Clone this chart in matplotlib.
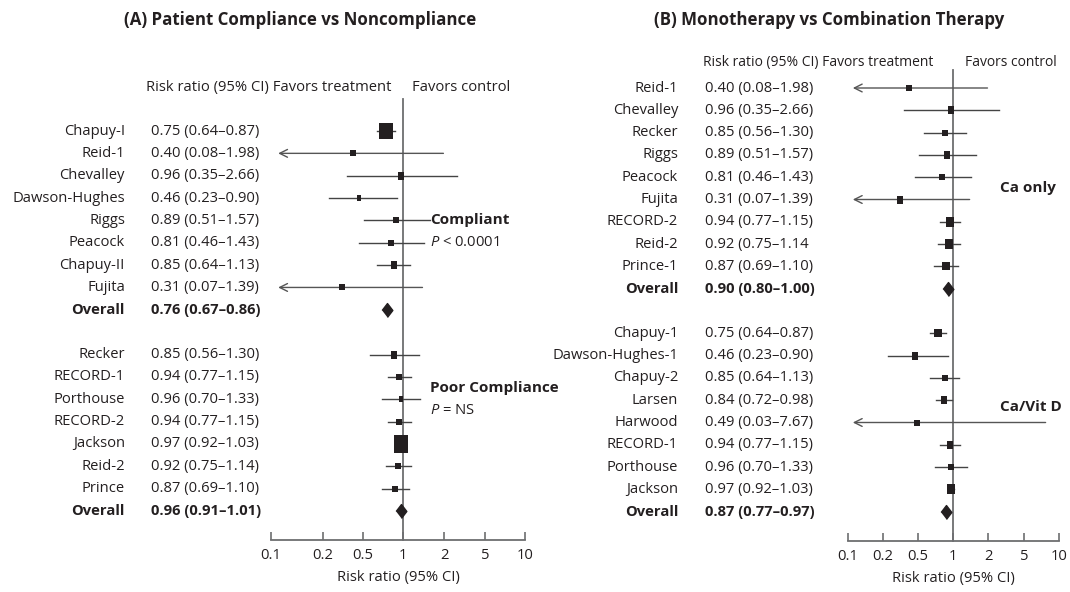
import numpy as np
import matplotlib
matplotlib.use("Agg")
import matplotlib.pyplot as plt
import matplotlib.transforms as mtransforms

plt.rcParams["font.family"] = ["Open Sans", "DejaVu Sans"]
plt.rcParams["mathtext.fontset"] = "custom"
plt.rcParams["mathtext.it"] = "Open Sans:italic"
plt.rcParams["mathtext.rm"] = "Open Sans"

nan = np.nan

# Panel A: compliance vs poor compliance
a_names = ["Chapuy-I", "Reid-1", "Chevalley", "Dawson-Hughes", "Riggs", "Peacock",
           "Chapuy-II", "Fujita", "Overall", "",
           "Recker", "RECORD-1", "Porthouse", "RECORD-2", "Jackson", "Reid-2",
           "Prince", "Overall"]
a_rr = [0.75, 0.40, 0.96, 0.46, 0.89, 0.81, 0.85, 0.31, 0.76, nan,
        0.85, 0.94, 0.96, 0.94, 0.97, 0.92, 0.87, 0.96]
a_lo = [0.64, 0.08, 0.35, 0.23, 0.51, 0.46, 0.64, 0.07, 0.67, nan,
        0.56, 0.77, 0.70, 0.77, 0.92, 0.75, 0.69, 0.91]
a_hi = [0.87, 1.98, 2.66, 0.90, 1.57, 1.43, 1.13, 1.39, 0.86, nan,
        1.30, 1.15, 1.33, 1.15, 1.03, 1.14, 1.10, 1.01]
a_box = [17, 7, 8, 6, 7, 7, 8, 7, 0, nan,
         8, 7, 6, 7, 18, 7, 7, 0]

# Panel B: monotherapy vs combination therapy
b_names = ["Reid-1", "Chevalley", "Recker", "Riggs", "Peacock", "Fujita",
           "RECORD-2", "Reid-2", "Prince-1", "Overall", "",
           "Chapuy-1", "Dawson-Hughes-1", "Chapuy-2", "Larsen", "Harwood",
           "RECORD-1", "Porthouse", "Jackson", "Overall"]
b_rr = [0.40, 0.96, 0.85, 0.89, 0.81, 0.31, 0.94, 0.92, 0.87, 0.90, nan,
        0.75, 0.46, 0.85, 0.84, 0.49, 0.94, 0.96, 0.97, 0.87]
b_lo = [0.08, 0.35, 0.56, 0.51, 0.46, 0.07, 0.77, 0.75, 0.69, 0.80, nan,
        0.64, 0.23, 0.64, 0.72, 0.03, 0.77, 0.70, 0.92, 0.77]
b_hi = [1.98, 2.66, 1.30, 1.57, 1.43, 1.39, 1.15, 1.14, 1.10, 1.00, nan,
        0.87, 0.90, 1.13, 0.98, 7.67, 1.15, 1.33, 1.03, 0.97]
b_box = [7, 8, 7, 8, 7, 8, 11, 11, 9, 0, nan,
         9, 8, 7, 8, 7, 8, 7, 11, 0]

tick_vals = [0.1, 0.2, 0.5, 1, 2, 5, 10]
tick_labels = ["0.1", "0.2", "0.5", "1", "2", "5", "10"]

W, H = 1070, 592
INK = "#231f20"
GREY = "#6d6e70"
FS = 10.6

fig = plt.figure(figsize=(W / 100, H / 100), dpi=100)


def make_scale(positions):
    logt = np.log10(tick_vals)

    def fwd(x):
        x = np.clip(np.asarray(x, dtype=float), 1e-4, None)
        return np.interp(np.log10(x), logt, positions)

    def inv(y):
        return 10 ** np.interp(np.asarray(y, dtype=float), positions, logt)

    return fwd, inv


def draw_panel(names, rr, lo, hi, box, L, side_labels, ci_fix=None):
    top, bot = L["top"], L["axis_y"]
    ax = fig.add_axes([L["left"] / W, 1 - bot / H,
                       (L["right"] - L["left"]) / W, (bot - top) / H])
    ax.set_xscale("function", functions=make_scale(L["pos"]))
    ax.set_xlim(0.1, 10)
    ax.set_ylim((bot - L["row0"]) / L["step"], (top - L["row0"]) / L["step"])

    for s in ["top", "right", "left"]:
        ax.spines[s].set_visible(False)
    ax.spines["bottom"].set_color(GREY)
    ax.spines["bottom"].set_linewidth(1.3)
    ax.set_yticks([])
    ax.set_xticks(tick_vals)
    ax.set_xticklabels(tick_labels)
    ax.xaxis.set_minor_locator(matplotlib.ticker.NullLocator())
    ax.tick_params(axis="x", direction="in", length=6, width=1.2, color=GREY,
                   labelsize=FS, labelcolor=INK, pad=6)
    ax.set_xlabel("Risk ratio (95% CI)", fontsize=FS, color=INK, labelpad=5)
    ax.patch.set_alpha(0)

    vtop = (L["vtop"] - L["row0"]) / L["step"]
    ax.plot([1, 1], [vtop, ax.get_ylim()[0]], color=GREY, lw=1.3, zorder=1,
            clip_on=False)

    tr = mtransforms.blended_transform_factory(fig.transFigure, ax.transData)
    for i in range(len(names)):
        if names[i] == "":
            continue
        overall = names[i] == "Overall"
        fw = "bold" if overall else "normal"
        ci = f"{rr[i]:.2f} ({lo[i]:.2f}\u2013{hi[i]:.2f})"
        if ci_fix and names[i] in ci_fix:
            ci = ci_fix[names[i]]
        ax.text(L["name_x"] / W, i, names[i], transform=tr, ha="right",
                va="center", fontsize=FS, fontweight=fw, color=INK)
        ax.text(L["ci_x"] / W, i, ci, transform=tr, ha="left",
                va="center", fontsize=FS, fontweight=fw, color=INK)
        if overall:
            ax.plot(rr[i], i, marker=[(0, -0.65), (0.5, 0), (0, 0.65), (-0.5, 0)],
                    markersize=10, color=INK, mec=INK, zorder=4)
            continue
        if lo[i] < 0.1:
            ax.annotate("", xy=(0.11, i), xytext=(hi[i], i),
                        arrowprops=dict(arrowstyle="->", color="#555555", lw=1.0,
                                        shrinkA=0, shrinkB=0, mutation_scale=14))
        else:
            ax.plot([lo[i], hi[i]], [i, i], color="#444444", lw=1.0, zorder=2)
        ax.plot(rr[i], i, marker=[(-0.4, -0.5), (0.4, -0.5), (0.4, 0.5), (-0.4, 0.5)],
                markersize=box[i] / 1.39, color=INK, mec=INK, mew=0, zorder=3)

    hy = (L["head_y"] - L["row0"]) / L["step"]
    ax.text(L["risk_x"] / W, hy, "Risk ratio (95% CI) Favors treatment", transform=tr,
            ha="left", va="center", fontsize=L["head_fs"], color=INK)
    ax.text(L["ctrl_x"] / W, hy, "Favors control", transform=tr, ha="left",
            va="center", fontsize=L["head_fs"], color=INK)

    for row, txt, bold in side_labels:
        ax.text(L["side_x"] / W, row, txt, transform=tr, ha="left", va="center",
                fontsize=FS + 0.4 if bold else FS, color=INK,
                fontweight="bold" if bold else "normal")

    fig.text(L["title_x"] / W, 1 - 20 / H, L["title"], ha="center", va="center",
             fontsize=12.2, fontweight="bold", color=INK)
    return ax


layout_a = dict(left=271, right=525, top=80, axis_y=540, row0=131, step=22.35,
                pos=[0, 52, 92, 132, 173, 214, 254], vtop=99,
                name_x=125, ci_x=151, head_y=87, risk_x=146, head_fs=FS,
                ctrl_x=412, side_x=430, title_x=300,
                title="(A) Patient Compliance vs Noncompliance")
layout_b = dict(left=848, right=1059, top=55, axis_y=541, row0=88, step=22.3,
                pos=[0, 35, 70, 105, 140, 176, 211], vtop=70,
                name_x=678, ci_x=705, head_y=62, risk_x=703, head_fs=10.0,
                ctrl_x=965, side_x=1000, title_x=829,
                title="(B) Monotherapy vs Combination Therapy")

draw_panel(a_names, a_rr, a_lo, a_hi, a_box, layout_a,
           [(4, "Compliant", True), (5, "$P$ < 0.0001", False),
            (11.5, "Poor Compliance", True), (12.5, "$P$ = NS", False)])
draw_panel(b_names, b_rr, b_lo, b_hi, b_box, layout_b,
           [(4.5, "Ca only", True), (14.3, "Ca/Vit D", True)],
           ci_fix={"Reid-2": "0.92 (0.75\u20131.14"})

fig.savefig("out.png", dpi=100)
